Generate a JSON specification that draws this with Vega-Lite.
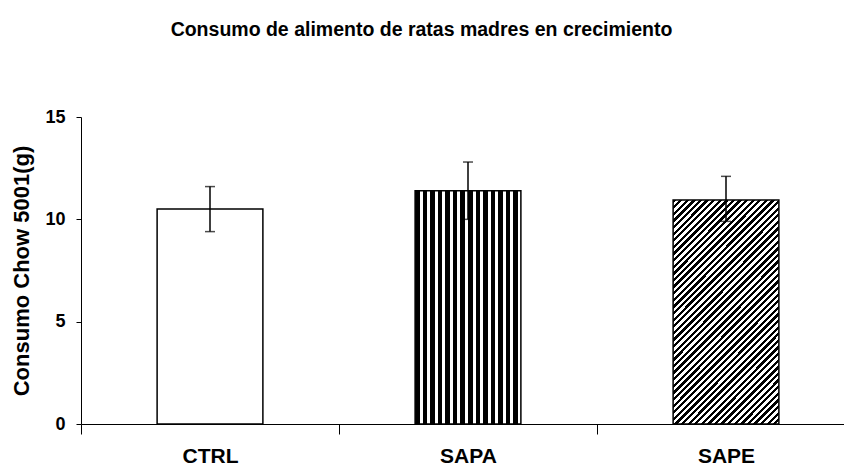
{
  "$schema": "https://vega.github.io/schema/vega-lite/v6.json",
  "width": 763,
  "height": 307,
  "autosize": {"type": "none"},
  "padding": {"left": 81, "top": 117, "right": 0, "bottom": 47},
  "background": "white",
  "title": {"text": "Consumo de alimento de ratas madres en crecimiento", "font": "Liberation Sans", "fontSize": 19.5, "fontWeight": "bold", "color": "black", "anchor": "middle", "frame": "group", "dx": -41, "offset": 68},
  "config": {
    "view": {"stroke": null},
    "axis": {"domainColor": "black", "tickColor": "black", "domainWidth": 1, "tickWidth": 1, "grid": false, "labelColor": "black", "labelFont": "Liberation Sans", "labelFontWeight": "bold", "titleColor": "black", "titleFont": "Liberation Sans", "titleFontWeight": "bold"}
  },
  "data": {"values": [
    {"grupo": "CTRL", "consumo": 10.5, "lo": 9.4, "hi": 11.6},
    {"grupo": "SAPA", "consumo": 11.4, "lo": 10.0, "hi": 12.8},
    {"grupo": "SAPE", "consumo": 10.95, "lo": 9.9, "hi": 12.1}
  ]},
  "encoding": {
    "x": {"field": "grupo", "type": "nominal", "sort": null,
      "scale": {"range": [0, 774], "paddingInner": 0, "paddingOuter": 0},
      "axis": {"title": null, "labelAngle": 0, "tickBand": "extent", "tickSize": 10, "labelPadding": 11, "labelFontSize": 21}}
  },
  "layer": [
    {
      "transform": [{"filter": "datum.grupo === 'CTRL'"}],
      "mark": {"type": "bar", "fill": "white", "stroke": "black", "strokeWidth": 1.5, "width": {"band": 0.41}},
      "encoding": {"y": {"field": "consumo", "type": "quantitative", "scale": {"domain": [0, 15], "nice": false},
        "axis": {"values": [0, 5, 10, 15], "tickSize": 5, "labelPadding": 11, "labelFontSize": 18, "title": "Consumo Chow 5001(g)", "titleFontSize": 22, "titleX": -60, "titleY": 153.5, "titleAngle": -90, "titleBaseline": "middle", "titleAlign": "center"}}}
    },
    {
      "transform": [{"filter": "datum.grupo === 'SAPA'"}],
      "mark": {"type": "bar", "stroke": "black", "strokeWidth": 1.5, "width": {"band": 0.41},
        "fill": {"gradient": "linear", "x1": 0, "y1": 0, "x2": 1, "y2": 0, "stops": [
          {"offset": 0, "color": "#000"}, {"offset": 0.0429, "color": "#000"}, {"offset": 0.0429, "color": "#fff"}, {"offset": 0.0714, "color": "#fff"},
          {"offset": 0.0714, "color": "#000"}, {"offset": 0.1143, "color": "#000"}, {"offset": 0.1143, "color": "#fff"}, {"offset": 0.1429, "color": "#fff"},
          {"offset": 0.1429, "color": "#000"}, {"offset": 0.1857, "color": "#000"}, {"offset": 0.1857, "color": "#fff"}, {"offset": 0.2143, "color": "#fff"},
          {"offset": 0.2143, "color": "#000"}, {"offset": 0.2571, "color": "#000"}, {"offset": 0.2571, "color": "#fff"}, {"offset": 0.2857, "color": "#fff"},
          {"offset": 0.2857, "color": "#000"}, {"offset": 0.3286, "color": "#000"}, {"offset": 0.3286, "color": "#fff"}, {"offset": 0.3571, "color": "#fff"},
          {"offset": 0.3571, "color": "#000"}, {"offset": 0.4, "color": "#000"}, {"offset": 0.4, "color": "#fff"}, {"offset": 0.4286, "color": "#fff"},
          {"offset": 0.4286, "color": "#000"}, {"offset": 0.4714, "color": "#000"}, {"offset": 0.4714, "color": "#fff"}, {"offset": 0.5, "color": "#fff"},
          {"offset": 0.5, "color": "#000"}, {"offset": 0.5429, "color": "#000"}, {"offset": 0.5429, "color": "#fff"}, {"offset": 0.5714, "color": "#fff"},
          {"offset": 0.5714, "color": "#000"}, {"offset": 0.6143, "color": "#000"}, {"offset": 0.6143, "color": "#fff"}, {"offset": 0.6429, "color": "#fff"},
          {"offset": 0.6429, "color": "#000"}, {"offset": 0.6857, "color": "#000"}, {"offset": 0.6857, "color": "#fff"}, {"offset": 0.7143, "color": "#fff"},
          {"offset": 0.7143, "color": "#000"}, {"offset": 0.7571, "color": "#000"}, {"offset": 0.7571, "color": "#fff"}, {"offset": 0.7857, "color": "#fff"},
          {"offset": 0.7857, "color": "#000"}, {"offset": 0.8286, "color": "#000"}, {"offset": 0.8286, "color": "#fff"}, {"offset": 0.8571, "color": "#fff"},
          {"offset": 0.8571, "color": "#000"}, {"offset": 0.9, "color": "#000"}, {"offset": 0.9, "color": "#fff"}, {"offset": 0.9286, "color": "#fff"},
          {"offset": 0.9286, "color": "#000"}, {"offset": 0.9714, "color": "#000"}, {"offset": 0.9714, "color": "#fff"}, {"offset": 1, "color": "#fff"}
        ]}},
      "encoding": {"y": {"field": "consumo", "type": "quantitative", "scale": {"domain": [0, 15], "nice": false}}}
    },
    {
      "transform": [{"filter": "datum.grupo === 'SAPE'"}],
      "mark": {"type": "bar", "stroke": "black", "strokeWidth": 1.5, "width": {"band": 0.41},
        "fill": {"gradient": "linear", "x1": 0, "y1": 0, "x2": 0.571, "y2": 1.205, "stops": [
          {"offset": 0, "color": "#000"}, {"offset": 0.01, "color": "#000"}, {"offset": 0.01, "color": "#fff"}, {"offset": 0.02, "color": "#fff"},
          {"offset": 0.02, "color": "#000"}, {"offset": 0.03, "color": "#000"}, {"offset": 0.03, "color": "#fff"}, {"offset": 0.04, "color": "#fff"},
          {"offset": 0.04, "color": "#000"}, {"offset": 0.05, "color": "#000"}, {"offset": 0.05, "color": "#fff"}, {"offset": 0.06, "color": "#fff"},
          {"offset": 0.06, "color": "#000"}, {"offset": 0.07, "color": "#000"}, {"offset": 0.07, "color": "#fff"}, {"offset": 0.08, "color": "#fff"},
          {"offset": 0.08, "color": "#000"}, {"offset": 0.09, "color": "#000"}, {"offset": 0.09, "color": "#fff"}, {"offset": 0.10, "color": "#fff"},
          {"offset": 0.10, "color": "#000"}, {"offset": 0.11, "color": "#000"}, {"offset": 0.11, "color": "#fff"}, {"offset": 0.12, "color": "#fff"},
          {"offset": 0.12, "color": "#000"}, {"offset": 0.13, "color": "#000"}, {"offset": 0.13, "color": "#fff"}, {"offset": 0.14, "color": "#fff"},
          {"offset": 0.14, "color": "#000"}, {"offset": 0.15, "color": "#000"}, {"offset": 0.15, "color": "#fff"}, {"offset": 0.16, "color": "#fff"},
          {"offset": 0.16, "color": "#000"}, {"offset": 0.17, "color": "#000"}, {"offset": 0.17, "color": "#fff"}, {"offset": 0.18, "color": "#fff"},
          {"offset": 0.18, "color": "#000"}, {"offset": 0.19, "color": "#000"}, {"offset": 0.19, "color": "#fff"}, {"offset": 0.20, "color": "#fff"},
          {"offset": 0.20, "color": "#000"}, {"offset": 0.21, "color": "#000"}, {"offset": 0.21, "color": "#fff"}, {"offset": 0.22, "color": "#fff"},
          {"offset": 0.22, "color": "#000"}, {"offset": 0.23, "color": "#000"}, {"offset": 0.23, "color": "#fff"}, {"offset": 0.24, "color": "#fff"},
          {"offset": 0.24, "color": "#000"}, {"offset": 0.25, "color": "#000"}, {"offset": 0.25, "color": "#fff"}, {"offset": 0.26, "color": "#fff"},
          {"offset": 0.26, "color": "#000"}, {"offset": 0.27, "color": "#000"}, {"offset": 0.27, "color": "#fff"}, {"offset": 0.28, "color": "#fff"},
          {"offset": 0.28, "color": "#000"}, {"offset": 0.29, "color": "#000"}, {"offset": 0.29, "color": "#fff"}, {"offset": 0.30, "color": "#fff"},
          {"offset": 0.30, "color": "#000"}, {"offset": 0.31, "color": "#000"}, {"offset": 0.31, "color": "#fff"}, {"offset": 0.32, "color": "#fff"},
          {"offset": 0.32, "color": "#000"}, {"offset": 0.33, "color": "#000"}, {"offset": 0.33, "color": "#fff"}, {"offset": 0.34, "color": "#fff"},
          {"offset": 0.34, "color": "#000"}, {"offset": 0.35, "color": "#000"}, {"offset": 0.35, "color": "#fff"}, {"offset": 0.36, "color": "#fff"},
          {"offset": 0.36, "color": "#000"}, {"offset": 0.37, "color": "#000"}, {"offset": 0.37, "color": "#fff"}, {"offset": 0.38, "color": "#fff"},
          {"offset": 0.38, "color": "#000"}, {"offset": 0.39, "color": "#000"}, {"offset": 0.39, "color": "#fff"}, {"offset": 0.40, "color": "#fff"},
          {"offset": 0.40, "color": "#000"}, {"offset": 0.41, "color": "#000"}, {"offset": 0.41, "color": "#fff"}, {"offset": 0.42, "color": "#fff"},
          {"offset": 0.42, "color": "#000"}, {"offset": 0.43, "color": "#000"}, {"offset": 0.43, "color": "#fff"}, {"offset": 0.44, "color": "#fff"},
          {"offset": 0.44, "color": "#000"}, {"offset": 0.45, "color": "#000"}, {"offset": 0.45, "color": "#fff"}, {"offset": 0.46, "color": "#fff"},
          {"offset": 0.46, "color": "#000"}, {"offset": 0.47, "color": "#000"}, {"offset": 0.47, "color": "#fff"}, {"offset": 0.48, "color": "#fff"},
          {"offset": 0.48, "color": "#000"}, {"offset": 0.49, "color": "#000"}, {"offset": 0.49, "color": "#fff"}, {"offset": 0.50, "color": "#fff"},
          {"offset": 0.50, "color": "#000"}, {"offset": 0.51, "color": "#000"}, {"offset": 0.51, "color": "#fff"}, {"offset": 0.52, "color": "#fff"},
          {"offset": 0.52, "color": "#000"}, {"offset": 0.53, "color": "#000"}, {"offset": 0.53, "color": "#fff"}, {"offset": 0.54, "color": "#fff"},
          {"offset": 0.54, "color": "#000"}, {"offset": 0.55, "color": "#000"}, {"offset": 0.55, "color": "#fff"}, {"offset": 0.56, "color": "#fff"},
          {"offset": 0.56, "color": "#000"}, {"offset": 0.57, "color": "#000"}, {"offset": 0.57, "color": "#fff"}, {"offset": 0.58, "color": "#fff"},
          {"offset": 0.58, "color": "#000"}, {"offset": 0.59, "color": "#000"}, {"offset": 0.59, "color": "#fff"}, {"offset": 0.60, "color": "#fff"},
          {"offset": 0.60, "color": "#000"}, {"offset": 0.61, "color": "#000"}, {"offset": 0.61, "color": "#fff"}, {"offset": 0.62, "color": "#fff"},
          {"offset": 0.62, "color": "#000"}, {"offset": 0.63, "color": "#000"}, {"offset": 0.63, "color": "#fff"}, {"offset": 0.64, "color": "#fff"},
          {"offset": 0.64, "color": "#000"}, {"offset": 0.65, "color": "#000"}, {"offset": 0.65, "color": "#fff"}, {"offset": 0.66, "color": "#fff"},
          {"offset": 0.66, "color": "#000"}, {"offset": 0.67, "color": "#000"}, {"offset": 0.67, "color": "#fff"}, {"offset": 0.68, "color": "#fff"},
          {"offset": 0.68, "color": "#000"}, {"offset": 0.69, "color": "#000"}, {"offset": 0.69, "color": "#fff"}, {"offset": 0.70, "color": "#fff"},
          {"offset": 0.70, "color": "#000"}, {"offset": 0.71, "color": "#000"}, {"offset": 0.71, "color": "#fff"}, {"offset": 0.72, "color": "#fff"},
          {"offset": 0.72, "color": "#000"}, {"offset": 0.73, "color": "#000"}, {"offset": 0.73, "color": "#fff"}, {"offset": 0.74, "color": "#fff"},
          {"offset": 0.74, "color": "#000"}, {"offset": 0.75, "color": "#000"}, {"offset": 0.75, "color": "#fff"}, {"offset": 0.76, "color": "#fff"},
          {"offset": 0.76, "color": "#000"}, {"offset": 0.77, "color": "#000"}, {"offset": 0.77, "color": "#fff"}, {"offset": 0.78, "color": "#fff"},
          {"offset": 0.78, "color": "#000"}, {"offset": 0.79, "color": "#000"}, {"offset": 0.79, "color": "#fff"}, {"offset": 0.80, "color": "#fff"},
          {"offset": 0.80, "color": "#000"}, {"offset": 0.81, "color": "#000"}, {"offset": 0.81, "color": "#fff"}, {"offset": 0.82, "color": "#fff"},
          {"offset": 0.82, "color": "#000"}, {"offset": 0.83, "color": "#000"}, {"offset": 0.83, "color": "#fff"}, {"offset": 0.84, "color": "#fff"},
          {"offset": 0.84, "color": "#000"}, {"offset": 0.85, "color": "#000"}, {"offset": 0.85, "color": "#fff"}, {"offset": 0.86, "color": "#fff"},
          {"offset": 0.86, "color": "#000"}, {"offset": 0.87, "color": "#000"}, {"offset": 0.87, "color": "#fff"}, {"offset": 0.88, "color": "#fff"},
          {"offset": 0.88, "color": "#000"}, {"offset": 0.89, "color": "#000"}, {"offset": 0.89, "color": "#fff"}, {"offset": 0.90, "color": "#fff"},
          {"offset": 0.90, "color": "#000"}, {"offset": 0.91, "color": "#000"}, {"offset": 0.91, "color": "#fff"}, {"offset": 0.92, "color": "#fff"},
          {"offset": 0.92, "color": "#000"}, {"offset": 0.93, "color": "#000"}, {"offset": 0.93, "color": "#fff"}, {"offset": 0.94, "color": "#fff"},
          {"offset": 0.94, "color": "#000"}, {"offset": 0.95, "color": "#000"}, {"offset": 0.95, "color": "#fff"}, {"offset": 0.96, "color": "#fff"},
          {"offset": 0.96, "color": "#000"}, {"offset": 0.97, "color": "#000"}, {"offset": 0.97, "color": "#fff"}, {"offset": 0.98, "color": "#fff"},
          {"offset": 0.98, "color": "#000"}, {"offset": 0.99, "color": "#000"}, {"offset": 0.99, "color": "#fff"}, {"offset": 1, "color": "#fff"}
        ]}},
      "encoding": {"y": {"field": "consumo", "type": "quantitative", "scale": {"domain": [0, 15], "nice": false}}}
    },
    {
      "mark": {"type": "rule", "color": "black", "strokeWidth": 1.5},
      "encoding": {"y": {"field": "lo", "type": "quantitative"}, "y2": {"field": "hi"}}
    },
    {
      "mark": {"type": "tick", "color": "black", "size": 10, "thickness": 1.5},
      "encoding": {"y": {"field": "hi", "type": "quantitative"}}
    },
    {
      "mark": {"type": "tick", "color": "black", "size": 10, "thickness": 1.5},
      "encoding": {"y": {"field": "lo", "type": "quantitative"}}
    }
  ]
}
